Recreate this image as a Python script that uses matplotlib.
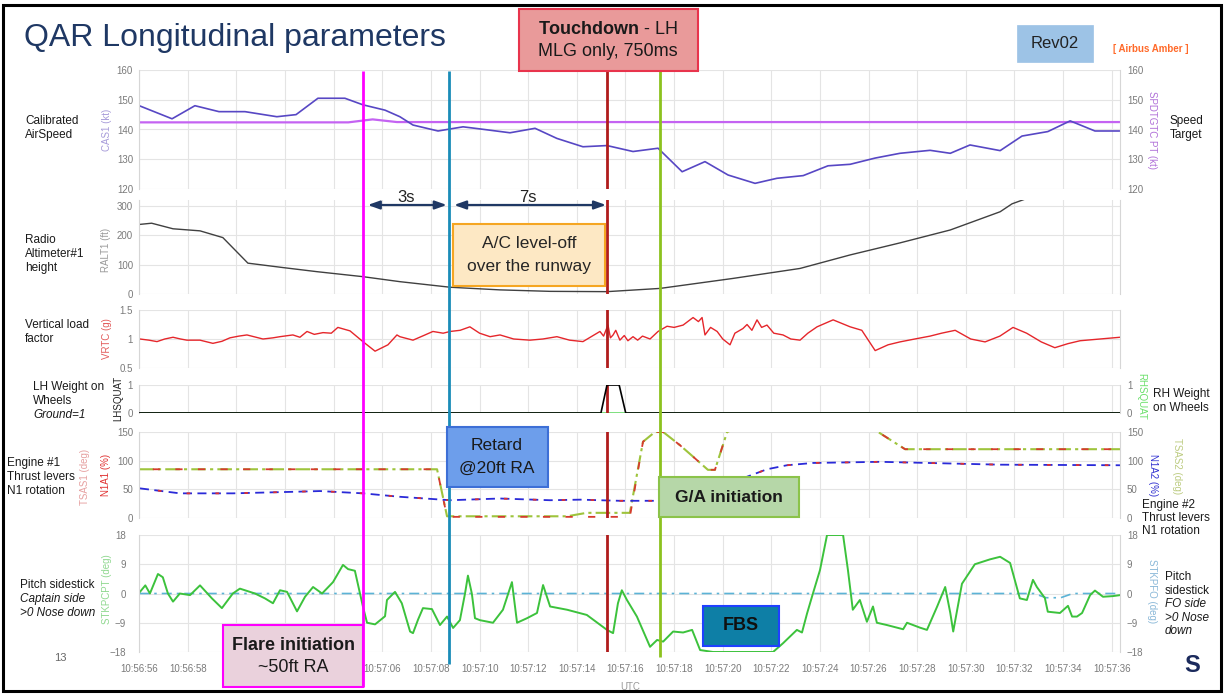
import matplotlib as mpl
mpl.use('Agg')
import matplotlib.pyplot as plt
from matplotlib.patches import Rectangle

plt.rcParams['font.family'] = ['Liberation Sans', 'DejaVu Sans']
plt.rcParams['mathtext.fontset'] = 'custom'
plt.rcParams['mathtext.rm'] = 'Liberation Sans'
plt.rcParams['mathtext.bf'] = 'Liberation Sans:bold'

W, H = 1224, 695

# time base: seconds after 10:56:56 UTC
tick_times = list(range(0, 41, 2))
tick_labels = ['10:56:56', '10:56:58', '10:57:00', '10:57:02', '10:57:04', '10:57:06',
               '10:57:08', '10:57:10', '10:57:12', '10:57:14', '10:57:16', '10:57:18',
               '10:57:20', '10:57:22', '10:57:24', '10:57:26', '10:57:28', '10:57:30',
               '10:57:32', '10:57:34', '10:57:36']
hidden_ticks = ['10:57:00', '10:57:02', '10:57:04']  # sit under the flare box
t_min, t_max = -0.03, 40.34

# event markers
t_flare = 9.2
t_retard = 12.75
t_touchdown = 19.25
t_ga = 21.4

# calibrated airspeed (kt)
cas_t = [0.0, 1.35, 2.29, 3.28, 4.35, 5.66, 6.45, 7.35, 8.46, 9.2, 10.11, 10.72, 11.26,
         12.29, 13.32, 14.01, 15.25, 16.28, 17.18, 18.25, 19.24, 20.31, 21.34, 22.33,
         23.27, 24.22, 25.33, 26.23, 27.31, 28.33, 29.24, 30.27, 31.29, 32.53, 33.36,
         34.17, 35.41, 36.31, 37.37, 38.29, 39.31, 40.34]
cas_kt = [148, 143.6, 148, 146, 146, 144.3, 145, 150.5, 150.5, 148.3, 146.5, 144.3, 141.5,
          139.5, 140.9, 140.2, 138.9, 140.4, 137, 134.2, 134.6, 132.6, 133.7, 125.8,
          129.2, 124.7, 121.9, 123.6, 124.5, 127.8, 128.3, 130.4, 132, 133, 132,
          134.8, 132.9, 137.8, 139.3, 142.9, 139.5, 139.5]

# speed target (kt)
spd_t = [0.0, 8.6, 9.6, 10.6, 40.34]
spd_kt = [142.4, 142.4, 143.4, 142.5, 142.5]

# radio altitude (ft)
ralt_t = [0.03, 0.51, 1.39, 2.5, 3.44, 4.47, 5.91, 7.31, 9.2, 10.72, 12.79, 14.84, 16.9,
          19.24, 21.42, 24.42, 27.18, 29.24, 31.29, 33.36, 35.41, 35.9, 37.0]
ralt_ft = [237, 241, 222, 215, 192, 105, 90, 76, 59, 42, 23, 14, 9,
           8, 19, 53, 87, 133, 174, 218, 280, 307, 340]

# vertical load factor (g)
vrtc_t = [0.03, 0.4, 0.73, 1.05, 1.39, 1.7, 1.96, 2.5, 3.03, 3.4, 3.73, 4.1, 4.43, 5.09,
          5.5, 5.79, 6.32, 6.61, 6.9, 7.2, 7.56, 7.9, 8.17, 8.67, 9.2, 9.7, 10.23, 10.6,
          10.72, 11.26, 11.7, 12.08, 12.5, 12.79, 13.2, 13.6, 14.0, 14.43, 14.84, 15.4,
          16.07, 16.6, 17.18, 17.7, 18.25, 18.95, 19.1, 19.28, 19.38, 19.49, 19.6, 19.77,
          19.95, 20.1, 20.31, 20.5, 20.7, 21.01, 21.34, 21.71, 22.0, 22.37, 22.78, 23.0,
          23.15, 23.27, 23.5, 23.77, 24.0, 24.3, 24.5, 24.83, 25.0, 25.2, 25.41, 25.6,
          25.82, 26.1, 26.48, 26.8, 27.18, 27.5, 27.88, 28.54, 29.24, 29.72, 30.27, 30.8,
          31.29, 31.9, 32.53, 33.0, 33.56, 34.2, 34.79, 35.4, 35.94, 36.5, 37.1, 37.66,
          38.2, 38.7, 39.52, 40.34]
vrtc_g = [1.0, 0.98, 0.955, 1.0, 1.03, 1.0, 0.98, 0.98, 0.925, 0.96, 1.02, 1.05, 1.07, 1.0,
          1.02, 1.04, 1.07, 1.03, 1.13, 1.08, 1.11, 1.1, 1.2, 1.14, 0.955, 0.79, 0.9, 1.07,
          1.04, 0.98, 1.06, 1.13, 1.1, 1.13, 1.15, 1.21, 1.1, 1.04, 1.07, 1.0,
          0.98, 1.0, 1.04, 0.98, 0.955, 1.13, 1.05, 1.24, 1.02, 1.07, 1.15, 0.98,
          1.06, 0.97, 1.04, 0.98, 1.05, 1.0, 1.13, 1.22, 1.2, 1.24, 1.37, 1.3,
          1.37, 1.07, 1.2, 1.13, 1.0, 0.9, 1.1, 1.18, 1.25, 1.15, 1.33, 1.2,
          1.24, 1.1, 1.07, 1.0, 0.98, 1.1, 1.21, 1.33, 1.21, 1.15, 0.8, 0.9,
          0.95, 1.0, 1.05, 1.1, 1.15, 1.0, 0.95, 1.05, 1.2, 1.1, 0.95, 0.85,
          0.92, 0.97, 1.0, 1.03]

# weight on wheels (ground = 1)
lh_wow_t = [0.0, 18.99, 19.24, 19.74, 20.01, 40.34]
lh_wow = [0, 0, 1, 1, 0, 0]
rh_wow_t = [0.0, 40.34]
rh_wow = [0, 0]

# thrust lever angles (deg)
tsa1_t = [0.0, 12.25, 12.66, 20.18, 20.72, 21.21, 21.55, 22.24, 22.78, 23.39, 23.68,
          24.18, 24.7, 30.06, 30.39, 31.5, 40.34]
tsa1 = [85, 85, 2, 2, 133, 150, 150, 127, 107, 84, 84, 150, 160, 160, 150, 120, 120]
tsa2_t = [0.0, 12.25, 12.66, 17.6, 18.4, 20.18, 20.72, 21.21, 21.55, 22.24, 22.78, 23.39,
          23.68, 24.18, 24.7, 30.06, 30.39, 31.5, 40.34]
tsa2 = [85, 85, 3, 3, 9, 9, 133, 150, 150, 127, 107, 84, 84, 150, 160, 160, 150, 120, 120]

# N1 (%)
n1_t = [0.03, 1.67, 3.85, 6.61, 7.43, 9.2, 10.72, 12.79, 14.84, 16.9, 18.13, 19.77, 21.3,
        23.07, 25.0, 25.82, 26.64, 27.71, 30.47, 35.41, 40.34]
n1 = [51.7, 43, 43, 46, 47, 43, 37, 31, 34, 31, 32, 30, 30, 40, 72, 85, 92, 96, 98, 93, 92]

# pitch sidestick, captain (deg)
stk_cpt_t = [0.03, 0.25, 0.44, 0.77, 0.97, 1.18, 1.39, 1.67, 2.09, 2.5, 2.99, 3.4, 3.85,
             4.14, 4.76, 5.17, 5.5, 5.79, 6.08, 6.49, 6.82, 7.15, 7.52, 7.97, 8.38,
             8.59, 8.87, 9.08, 9.2, 9.37, 9.7, 10.11, 10.19, 10.52, 10.8, 11.14, 11.26,
             11.47, 11.67, 12.04, 12.37, 12.66, 12.91, 13.19, 13.4, 13.52, 13.68, 13.81,
             14.01, 14.55, 14.96, 15.33, 15.54, 15.95, 16.36, 16.61, 16.9, 17.6, 18.41,
             19.24, 19.49, 19.69, 19.85, 20.06, 20.47, 21.01, 21.3, 21.55, 21.96, 22.37,
             22.74, 23.07, 23.6, 26.07, 26.48, 27.05, 27.26, 27.47, 27.71, 28.0, 28.29,
             28.95, 29.15, 29.35, 29.64, 29.93, 30.18, 30.34, 30.75, 31.42, 31.58, 32.11,
             32.4, 32.82, 33.15, 33.36, 33.48, 33.84, 34.37, 34.99, 35.41, 35.82, 36.22,
             36.51, 36.76, 36.92, 37.25, 37.37, 37.87, 38.2, 38.37, 38.57, 38.78, 39.11,
             39.31, 39.64, 40.05, 40.34]
stk_cpt = [0.5, 2.5, 0, 6, 5, 0, -2.5, 0, -0.5, 2.5, -1.5, -4.5, 0,
           1.5, 0, -1.5, -3, 1, 0.5, -5.5, -1, 2, 0, 3.5, 8.8,
           7.5, 7, 0, -4, -9, -9.5, -7, -2, 0.5, -3, -11.7, -12.2,
           -8, -4.5, -4.8, -9.7, -7.1, -10.6, -8.2, 0, 5.5, 0, -7.6,
           -8.2, -9, -5, 3.5, -9, -7.6, -6, 2.6, -4, -5, -6.6,
           -11.2, -12.2, -3, 1, -2, -7.1, -16.4, -14.3, -14.8, -11.7, -12,
           -11.2, -17.4, -18, -18, -15.3, -11.2, -12, -6.1, 0, 7.2, 18,
           18, 7.2, -5, -2, -8.7, -4, -9, -9.7, -11, -9, -10.5,
           -11.2, -4, 2, -6, -11.7, 3, 9, 10.5, 11.3, 9.4, -1.5,
           -2, 4.2, 2, -1.4, -5.6, -6, -3.8, -7.1, -7.1, -6, -0.5,
           0.9, -1, -0.8, -0.5]

# pitch sidestick, first officer (deg)
stk_fo_t = [0.0, 36.8, 37.3, 37.9, 38.4, 40.34]
stk_fo = [0, 0, -1.3, -1.3, 0, 0]

fig = plt.figure(figsize=(W / 100, H / 100), dpi=100)
fig.patch.set_facecolor('white')


def fx(x):
    return x / W


def fy(y):
    return 1 - y / H


def panel(top, bottom, ylim, yticks, right=False, left_fmt=None):
    ax = fig.add_axes([fx(138.5), fy(bottom), (1120 - 138.5) / W, (bottom - top) / H])
    ax.set_xlim(t_min, t_max)
    ax.set_ylim(*ylim)
    ax.set_xticks(tick_times)
    ax.set_yticks(yticks)
    if left_fmt:
        ax.set_yticklabels(left_fmt)
    ax.grid(True, color='#e4e4e4', lw=0.8)
    ax.set_axisbelow(True)
    for s in ['top', 'bottom']:
        ax.spines[s].set_visible(False)
    for s in ['left', 'right']:
        ax.spines[s].set_color('#d6d6d6')
    ax.tick_params(length=0, labelsize=7, labelcolor='#7a7a7a', pad=4, labelbottom=False)
    ax.axvline(t_touchdown, color='#b01c1c', lw=2, zorder=5)
    if right:
        tw = ax.twinx()
        tw.set_ylim(*ylim)
        tw.set_yticks(yticks)
        if left_fmt:
            tw.set_yticklabels(left_fmt)
        tw.tick_params(length=0, labelsize=7, labelcolor='#7a7a7a', pad=5)
        for s in tw.spines.values():
            s.set_visible(False)
    return ax


ax1 = panel(70, 189, (120, 160), [120, 130, 140, 150, 160], right=True)
ax1.plot(spd_t, spd_kt, color='#c463f2', lw=1.6)
ax1.plot(cas_t, cas_kt, color='#5747c4', lw=1.2)

ax2 = panel(200, 294, (0, 320), [0, 100, 200, 300])
ax2.plot(ralt_t, ralt_ft, color='#404040', lw=1.0)

ax3 = panel(310, 368, (0.5, 1.5), [0.5, 1, 1.5], left_fmt=['0.5', '1', '1.5'])
ax3.plot(vrtc_t, vrtc_g, color='#e5262b', lw=1.0)

ax4 = panel(385, 413, (0, 1), [0, 1], right=True)
ax4.plot(rh_wow_t, rh_wow, color='#7ee07e', lw=1.4)
ax4.plot(lh_wow_t, lh_wow, color='black', lw=1.2, zorder=6)

ax5 = panel(432, 518, (0, 150), [0, 50, 100, 150], right=True)
ax5.plot(tsa2_t, tsa2, color='#9ec43c', lw=1.5, ls=(0, (7, 2, 1.5, 2)))
ax5.plot(tsa1_t, tsa1, color='#d63a2e', lw=1.3, ls=(5, (4, 8.5)))
ax5.plot(n1_t, n1, color='#2a2ad8', lw=1.3, ls=(0, (5, 3)))
ax5.plot(n1_t, n1, color='#e03030', lw=1.3, ls=(6, (2, 14)))

ax6 = panel(535, 652, (-18, 18), [-18, -9, 0, 9, 18], right=True)
ax6.plot(stk_fo_t, stk_fo, color='#5bb3d6', lw=1.2, ls=(0, (6, 3, 1.5, 3)))
ax6.plot(stk_cpt_t, stk_cpt, color='#3cc23c', lw=1.4)
ax6.set_xticklabels(['' if s in hidden_ticks else s for s in tick_labels])
ax6.tick_params(labelbottom=True, pad=9)

# event lines, arrows on a transparent overlay sharing the time axis
ov = fig.add_axes([fx(138.5), 0, (1120 - 138.5) / W, 1], zorder=0.5)
ov.set_xlim(t_min, t_max)
ov.set_ylim(H, 0)
ov.axis('off')
ov.vlines(t_flare, 71, 687, color='#ff00ff', lw=2)
ov.vlines(t_retard, 71, 664, color='#1a8cb8', lw=2)
ov.vlines(t_ga, 71, 657, color='#8cc21e', lw=2)

arrow_kw = dict(arrowstyle='<|-|>,head_length=0.7,head_width=0.25', color='#1f3864',
                lw=1.6, shrinkA=0, shrinkB=0)
ov.annotate('', xy=(t_retard - 0.1, 205), xytext=(t_flare + 0.2, 205), arrowprops=arrow_kw)
ov.annotate('', xy=(t_touchdown - 0.05, 205), xytext=(t_retard + 0.2, 205), arrowprops=arrow_kw)
ov.text((t_flare + t_retard) / 2, 197, '3s', fontsize=12, ha='center', va='center', color='#222222')
ov.text((t_retard + t_touchdown) / 2, 197, '7s', fontsize=12, ha='center', va='center', color='#222222')


def box(x0, y0, x1, y1, fc, ec, lw=1.5):
    fig.patches.append(Rectangle((fx(x0), fy(y1)), (x1 - x0) / W, (y1 - y0) / H,
                                 transform=fig.transFigure, facecolor=fc, edgecolor=ec,
                                 lw=lw, zorder=2))


def txt(x, y, s, **kw):
    kw.setdefault('va', 'center')
    kw.setdefault('zorder', 3)
    fig.text(fx(x), fy(y), s, **kw)


# slide frame and header
fig.patches.append(Rectangle((fx(3), fy(691)), (1221 - 3) / W, (691 - 5) / H,
                             transform=fig.transFigure, fill=False, edgecolor='black', lw=2.2, zorder=4))
txt(24, 38, 'QAR Longitudinal parameters', fontsize=23, color='#1f3864')
box(1017, 25, 1093, 62, '#9dc3e6', '#9dc3e6', lw=0.5)
txt(1055, 43, 'Rev02', fontsize=12, ha='center', color='#222222')
txt(1151, 49, '[ Airbus Amber ]', fontsize=7, ha='center', color='#ff6a2a', fontweight='bold')

box(519, 9, 698, 71, '#e99a9a', '#e8344c')
txt(608, 29, r'$\mathbf{Touchdown}$ - LH', fontsize=13, ha='center', color='#1a1a1a')
txt(608, 52, 'MLG only, 750ms', fontsize=13, ha='center', color='#1a1a1a')

box(453, 224, 605, 286, '#fde8c4', '#f5a623')
txt(529, 244, 'A/C level-off', fontsize=12.5, ha='center', color='#262626')
txt(529, 267, 'over the runway', fontsize=12.5, ha='center', color='#262626')

box(447, 427, 548, 487, '#6d9eeb', '#3d6fd6')
txt(497, 446, 'Retard', fontsize=12.5, ha='center', color='#1a1a1a')
txt(497, 468, '@20ft RA', fontsize=12.5, ha='center', color='#1a1a1a')

box(659, 477, 799, 517, '#b6d7a8', '#8bc34a')
txt(729, 497, 'G/A initiation', fontsize=12.5, ha='center', color='#1a1a1a', fontweight='bold')

box(703, 606, 779, 646, '#0e7fa6', '#2040ff')
txt(741, 626, 'FBS', fontsize=13, ha='center', color='#101010', fontweight='bold')

box(223, 625, 363, 687, '#ead1dc', '#ff00ff')
txt(293, 645, 'Flare initiation', fontsize=13, ha='center', color='#1a1a1a', fontweight='bold')
txt(293, 668, '~50ft RA', fontsize=13, ha='center', color='#1a1a1a')

# axis titles
axis_lbl = dict(fontsize=7, rotation=90, ha='center')
txt(107, 130, 'CAS1 (kt)', color='#a79bd9', **axis_lbl)
txt(106, 250, 'RALT1 (ft)', color='#9a9a9a', **axis_lbl)
txt(107, 339, 'VRTC (g)', color='#e25a5a', **axis_lbl)
txt(118, 398, 'LHSQUAT', color='#222222', **axis_lbl)
txt(85, 477, 'TSAS1 (deg)', color='#e6a0a0', **axis_lbl)
txt(106, 475, 'N1A1 (%)', color='#e03030', **axis_lbl)
txt(107, 589, 'STKPCPT (deg)', color='#90d890', **axis_lbl)

axis_rgt = dict(fontsize=7, rotation=270, ha='center')
txt(1152, 130, 'SPDTGTC PT (kt)', color='#b070d8', **axis_rgt)
txt(1141, 396, 'RHSQUAT', color='#6be06b', **axis_rgt)
txt(1153, 475, 'N1A2 (%)', color='#3030d0', **axis_rgt)
txt(1177, 466, 'TSAS2 (deg)', color='#bccb80', **axis_rgt)
txt(1152, 591, 'STKPFO (deg)', color='#8ab8d8', **axis_rgt)

# parameter descriptions
d = dict(fontsize=8.5, color='#1a1a1a')
txt(25, 121, 'Calibrated', **d)
txt(25, 135, 'AirSpeed', **d)
txt(25, 240, 'Radio', **d)
txt(25, 254, 'Altimeter#1', **d)
txt(25, 268, 'height', **d)
txt(25, 325, 'Vertical load', **d)
txt(25, 339, 'factor', **d)
txt(33, 387, 'LH Weight on', **d)
txt(33, 401, 'Wheels', **d)
txt(33, 415, 'Ground=1', style='italic', **d)
txt(7, 463, 'Engine #1', **d)
txt(7, 477, 'Thrust levers', **d)
txt(7, 491, 'N1 rotation', **d)
txt(20, 585, 'Pitch sidestick', **d)
txt(20, 599, 'Captain side', style='italic', **d)
txt(20, 613, '>0 Nose down', style='italic', **d)
txt(1170, 121, 'Speed', **d)
txt(1170, 135, 'Target', **d)
txt(1153, 394, 'RH Weight', **d)
txt(1153, 408, 'on Wheels', **d)
txt(1142, 505, 'Engine #2', **d)
txt(1142, 518, 'Thrust levers', **d)
txt(1142, 531, 'N1 rotation', **d)
txt(1165, 577, 'Pitch', **d)
txt(1165, 591, 'sidestick', **d)
txt(1165, 604, 'FO side', style='italic', **d)
txt(1165, 618, '>0 Nose', style='italic', **d)
txt(1165, 631, 'down', style='italic', **d)

txt(630, 687, 'UTC', fontsize=7, ha='center', color='#9a9a9a')
txt(60, 658, '13', fontsize=8, ha='center', color='#666666')
txt(1192, 665, 'S', fontsize=17, ha='center', color='#1b2a5c', fontweight='bold')

fig.savefig('out.png', dpi=100)
